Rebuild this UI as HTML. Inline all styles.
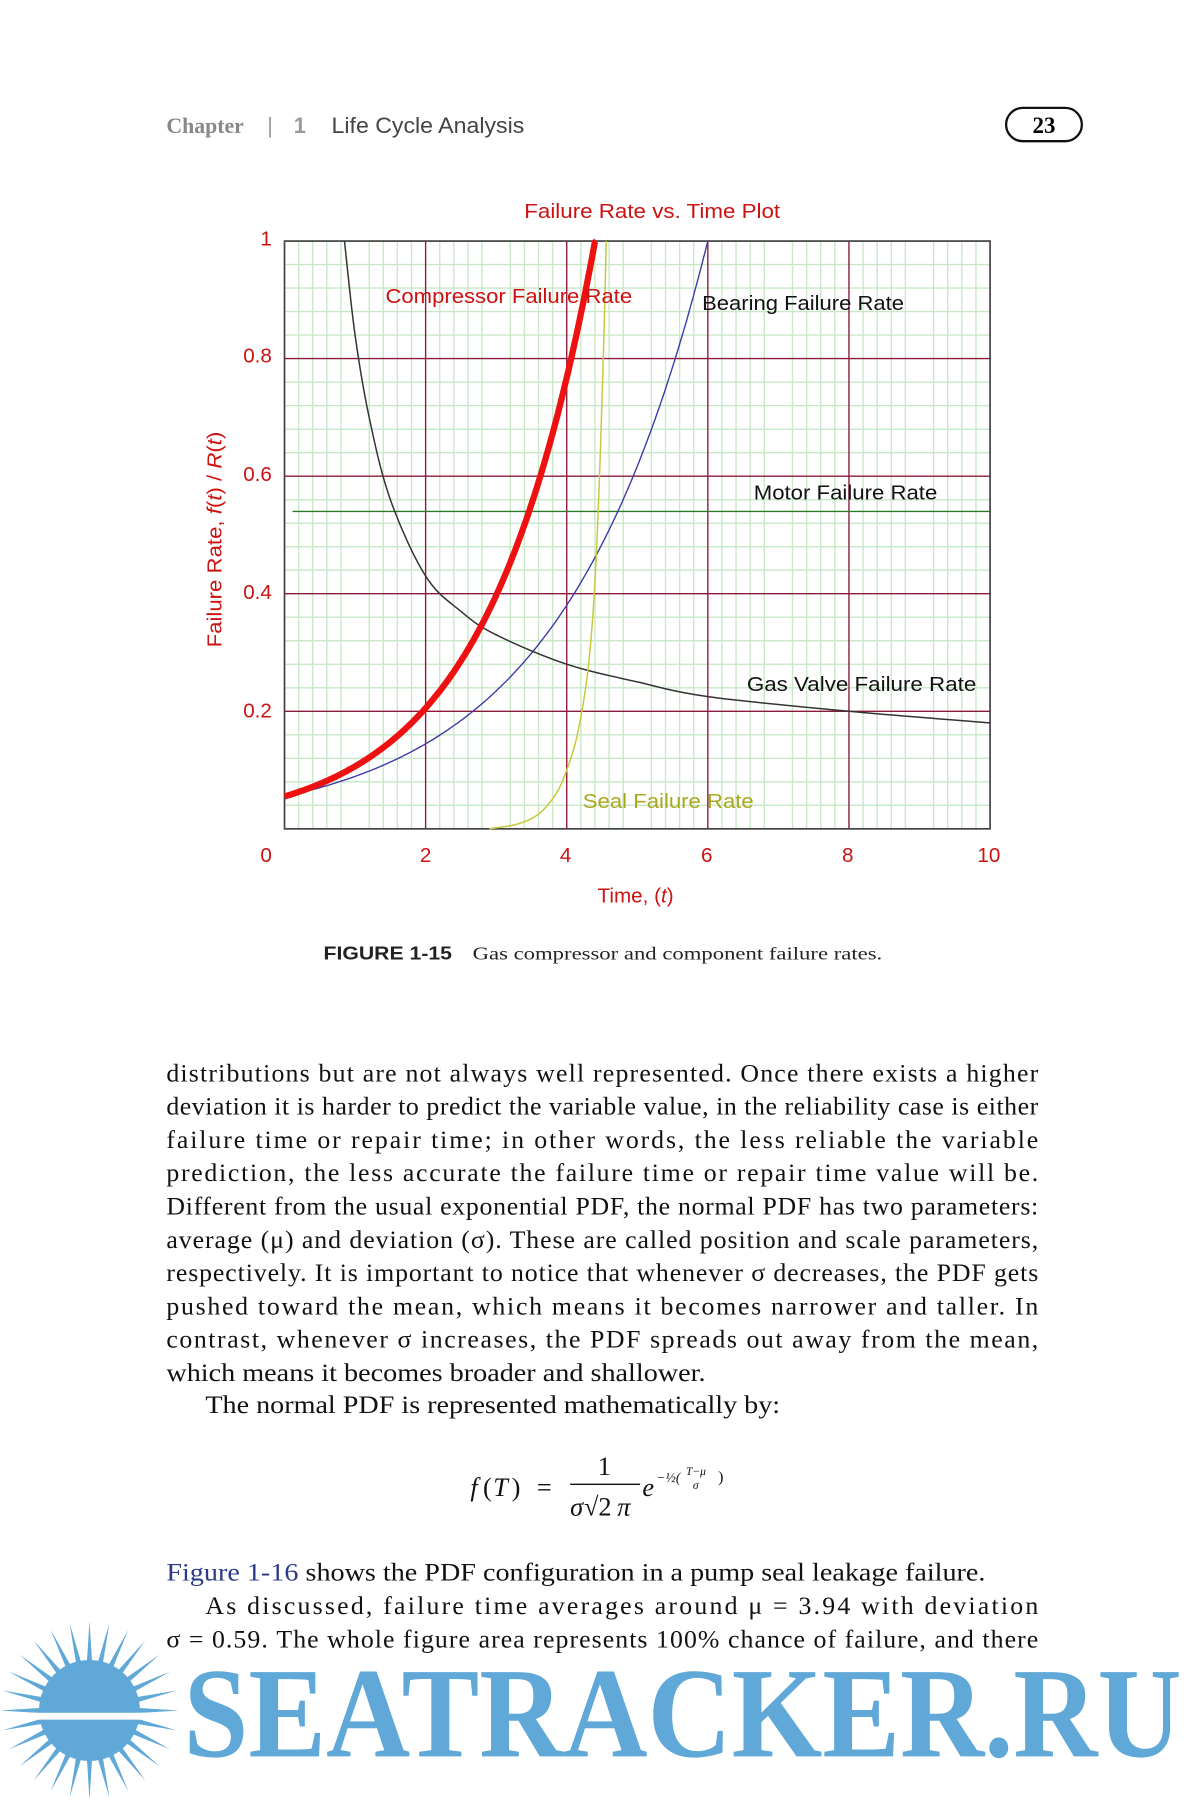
<!DOCTYPE html>
<html><head><meta charset="utf-8"><style>
html,body{margin:0;padding:0;background:#fff;}
svg{display:block;}
</style></head><body>
<svg id="s" width="1200" height="1800" viewBox="0 0 1046 1568" preserveAspectRatio="none" xmlns="http://www.w3.org/2000/svg">
<rect width="1046" height="1568" fill="#fff"/>
<g font-family="Liberation Sans, sans-serif" font-size="19" fill="#555">
<text x="145" y="116" fill="#888" font-family="Liberation Serif, serif" font-weight="bold">Chapter</text>
<text x="233" y="116" fill="#999">|</text>
<text x="256" y="116" fill="#999" font-weight="bold">1</text>
<text x="289" y="116" fill="#444" textLength="168" lengthAdjust="spacingAndGlyphs">Life Cycle Analysis</text>
</g>
<rect x="877" y="94" width="66" height="29" rx="14.5" fill="none" stroke="#111" stroke-width="2"/>
<text x="910" y="116" text-anchor="middle" font-family="Liberation Serif, serif" font-weight="bold" font-size="20">23</text>

<g id="grid"></g>
<rect x="248" y="210" width="615" height="512" fill="none" stroke="#444" stroke-width="1.5"/>
<g id="curves" fill="none"></g>

<g font-family="Liberation Sans, sans-serif" font-size="18" fill="#cc1111">
<text x="457" y="190" textLength="223" lengthAdjust="spacingAndGlyphs">Failure Rate vs. Time Plot</text>
<text x="237" y="214" text-anchor="end">1</text>
<text x="237" y="316" text-anchor="end">0.8</text>
<text x="237" y="419" text-anchor="end">0.6</text>
<text x="237" y="522" text-anchor="end">0.4</text>
<text x="237" y="625" text-anchor="end">0.2</text>
<text x="232" y="751" text-anchor="middle">0</text>
<text x="371" y="751" text-anchor="middle">2</text>
<text x="493" y="751" text-anchor="middle">4</text>
<text x="616" y="751" text-anchor="middle">6</text>
<text x="739" y="751" text-anchor="middle">8</text>
<text x="862" y="751" text-anchor="middle">10</text>
<text x="554" y="786" text-anchor="middle">Time, (<tspan font-style="italic">t</tspan>)</text>
<text transform="translate(193,470) rotate(-90)" text-anchor="middle" textLength="188" lengthAdjust="spacingAndGlyphs">Failure Rate, <tspan font-style="italic">f</tspan>(<tspan font-style="italic">t</tspan>) / <tspan font-style="italic">R</tspan>(<tspan font-style="italic">t</tspan>)</text>
<text x="336" y="264" textLength="215" lengthAdjust="spacingAndGlyphs">Compressor Failure Rate</text>
<text x="508" y="704" fill="#a8a820" textLength="149" lengthAdjust="spacingAndGlyphs">Seal Failure Rate</text>
</g>
<g font-family="Liberation Sans, sans-serif" font-size="18" fill="#111">
<text x="612" y="270" textLength="176" lengthAdjust="spacingAndGlyphs">Bearing Failure Rate</text>
<text x="657" y="435" textLength="160" lengthAdjust="spacingAndGlyphs">Motor Failure Rate</text>
<text x="651" y="602" textLength="200" lengthAdjust="spacingAndGlyphs">Gas Valve Failure Rate</text>
</g>
<text x="282" y="836" font-family="Liberation Sans, sans-serif" font-weight="bold" font-size="16" fill="#222" textLength="112" lengthAdjust="spacingAndGlyphs">FIGURE 1-15</text>
<text x="412" y="836" font-family="Liberation Serif, serif" font-size="16" fill="#222" textLength="357" lengthAdjust="spacingAndGlyphs">Gas compressor and component failure rates.</text>

<g id="body" font-family="Liberation Serif, serif" font-size="22.5" fill="#111"></g>
<g font-family="Liberation Serif, serif" font-size="23" fill="#111" font-style="italic">
<text x="410" y="1303">f</text><text x="421" y="1303" font-style="normal">(</text><text x="430" y="1303">T</text><text x="446" y="1303" font-style="normal">)</text><text x="468" y="1303" font-style="normal">=</text>
<text x="521" y="1285" font-style="normal">1</text>
<line x1="497" y1="1293" x2="558" y2="1293" stroke="#111" stroke-width="1.2"/>
<text x="497" y="1320">σ</text><text x="509" y="1320" font-style="normal">√2</text><text x="538" y="1320">π</text>
<text x="560" y="1303">e</text>
<text x="572" y="1291" font-size="12">−½(</text><text x="598" y="1285" font-size="10">T−μ</text><text x="604" y="1297" font-size="10">σ</text><text x="626" y="1291" font-size="14" font-style="normal">)</text>
</g>

<g id="wm"></g>
</svg>
<script>
const NS="http://www.w3.org/2000/svg";
function el(p,t,a){const e=document.createElementNS(NS,t);for(const k in a)e.setAttribute(k,a[k]);p.appendChild(e);return e;}
const X=t=>248+t*61.5, Y=v=>722-v*512;
const g=document.getElementById('grid');
for(let i=1;i<50;i++){if(i%5)el(g,'line',{x1:X(i*0.2),x2:X(i*0.2),y1:210,y2:722,stroke:'#c8e8c8','stroke-width':1.2});}
for(let i=1;i<25;i++){if(i%5)el(g,'line',{y1:Y(i*0.04),y2:Y(i*0.04),x1:248,x2:863,stroke:'#c8e8c8','stroke-width':1.2});}
for(let i=1;i<5;i++){el(g,'line',{x1:X(i*2),x2:X(i*2),y1:210,y2:722,stroke:'#8b1a3a','stroke-width':1.2});
el(g,'line',{y1:Y(i*0.2),y2:Y(i*0.2),x1:248,x2:863,stroke:'#8b1a3a','stroke-width':1.2});}
const c=document.getElementById('curves');
function fn(f,a,b,col,w){let d='';for(let t=a;t<=b+1e-9;t+=(b-a)/200){let v=f(t);if(v>1)v=1;d+=(d?'L':'M')+X(t).toFixed(1)+','+Y(v).toFixed(1);}el(c,'path',{d:d,stroke:col,'stroke-width':w});}
function pts(p,col,w){const P=p.map(q=>[X(q[0]),Y(q[1])]);let d='M'+P[0][0]+','+P[0][1];
for(let i=0;i<P.length-1;i++){const p0=P[Math.max(i-1,0)],p1=P[i],p2=P[i+1],p3=P[Math.min(i+2,P.length-1)];
const c1=[p1[0]+(p2[0]-p0[0])/6,p1[1]+(p2[1]-p0[1])/6],c2=[p2[0]-(p3[0]-p1[0])/6,p2[1]-(p3[1]-p1[1])/6];
d+=`C${c1[0].toFixed(1)},${c1[1].toFixed(1)} ${c2[0].toFixed(1)},${c2[1].toFixed(1)} ${p2[0].toFixed(1)},${p2[1].toFixed(1)}`;}
el(c,'path',{d:d,stroke:col,'stroke-width':w});}
el(c,'line',{x1:255,x2:863,y1:Y(0.54),y2:Y(0.54),stroke:'#2a7a2a','stroke-width':1.2});
fn(t=>0.055*Math.exp(0.4835*t),0,6,'#3a3aa8',1.2);
pts([[0.85,1],[1,0.84],[1.2,0.7],[1.5,0.56],[2,0.43],[2.5,0.37],[3,0.33],[4,0.28],[5,0.25],[6,0.225],[8,0.2],[10,0.18]],'#333',1.3);
pts([[2.9,0],[3.3,0.008],[3.6,0.025],[3.85,0.06],[4.0,0.1],[4.15,0.16],[4.3,0.27],[4.4,0.42],[4.48,0.65],[4.53,0.85],[4.56,1]],'#c8c840',1.3);
fn(t=>0.055*Math.exp(0.659*t),0,4.42,'#ee1111',5.5);
const lines=["distributions but are not always well represented. Once there exists a higher",
"deviation it is harder to predict the variable value, in the reliability case is either",
"failure time or repair time; in other words, the less reliable the variable",
"prediction, the less accurate the failure time or repair time value will be.",
"Different from the usual exponential PDF, the normal PDF has two parameters:",
"average (μ) and deviation (σ). These are called position and scale parameters,",
"respectively. It is important to notice that whenever σ decreases, the PDF gets",
"pushed toward the mean, which means it becomes narrower and taller. In",
"contrast, whenever σ increases, the PDF spreads out away from the mean,",
"which means it becomes broader and shallower."];
const b=document.getElementById('body');
lines.forEach((s,i)=>{const a={x:145,y:942+i*29,textLength:i<9?760:470,lengthAdjust:i<9?'spacing':'spacingAndGlyphs'};el(b,'text',a).textContent=s;});
el(b,'text',{x:179,y:1231,textLength:501,lengthAdjust:'spacingAndGlyphs'}).textContent="The normal PDF is represented mathematically by:";
let t1=el(b,'text',{x:145,y:1377,textLength:714,lengthAdjust:'spacingAndGlyphs'});t1.innerHTML='<tspan fill="#2a3a8a">Figure 1-16</tspan> shows the PDF configuration in a pump seal leakage failure.';
el(b,'text',{x:179,y:1406,textLength:726,lengthAdjust:'spacing'}).textContent="As discussed, failure time averages around μ = 3.94 with deviation";
el(b,'text',{x:145,y:1435,textLength:760,lengthAdjust:'spacing'}).textContent="σ = 0.59. The whole figure area represents 100% chance of failure, and there";
const w=document.getElementById('wm');
const cx=78,cy=1490;
let rp='';for(let i=0;i<28;i++){const a=i/28*2*Math.PI,a1=a-0.06,a2=a+0.06;rp+=`M${cx+40*Math.cos(a1)},${cy+40*Math.sin(a1)}L${cx+78*Math.cos(a)},${cy+78*Math.sin(a)}L${cx+40*Math.cos(a2)},${cy+40*Math.sin(a2)}Z`;}
el(w,'path',{d:rp,fill:'#5fa8d8'});
el(w,'circle',{cx:cx,cy:cy,r:44,fill:'#5fa8d8'});
el(w,'rect',{x:20,y:cy+2,width:130,height:6,fill:'#fff'});
const tw=el(w,'text',{x:160,y:1530,'font-family':'Liberation Serif, serif','font-weight':'bold','font-size':112,fill:'#5fa8d8',textLength:870,lengthAdjust:'spacingAndGlyphs'});tw.textContent="SEATRACKER.RU";
</script>
</body></html>
